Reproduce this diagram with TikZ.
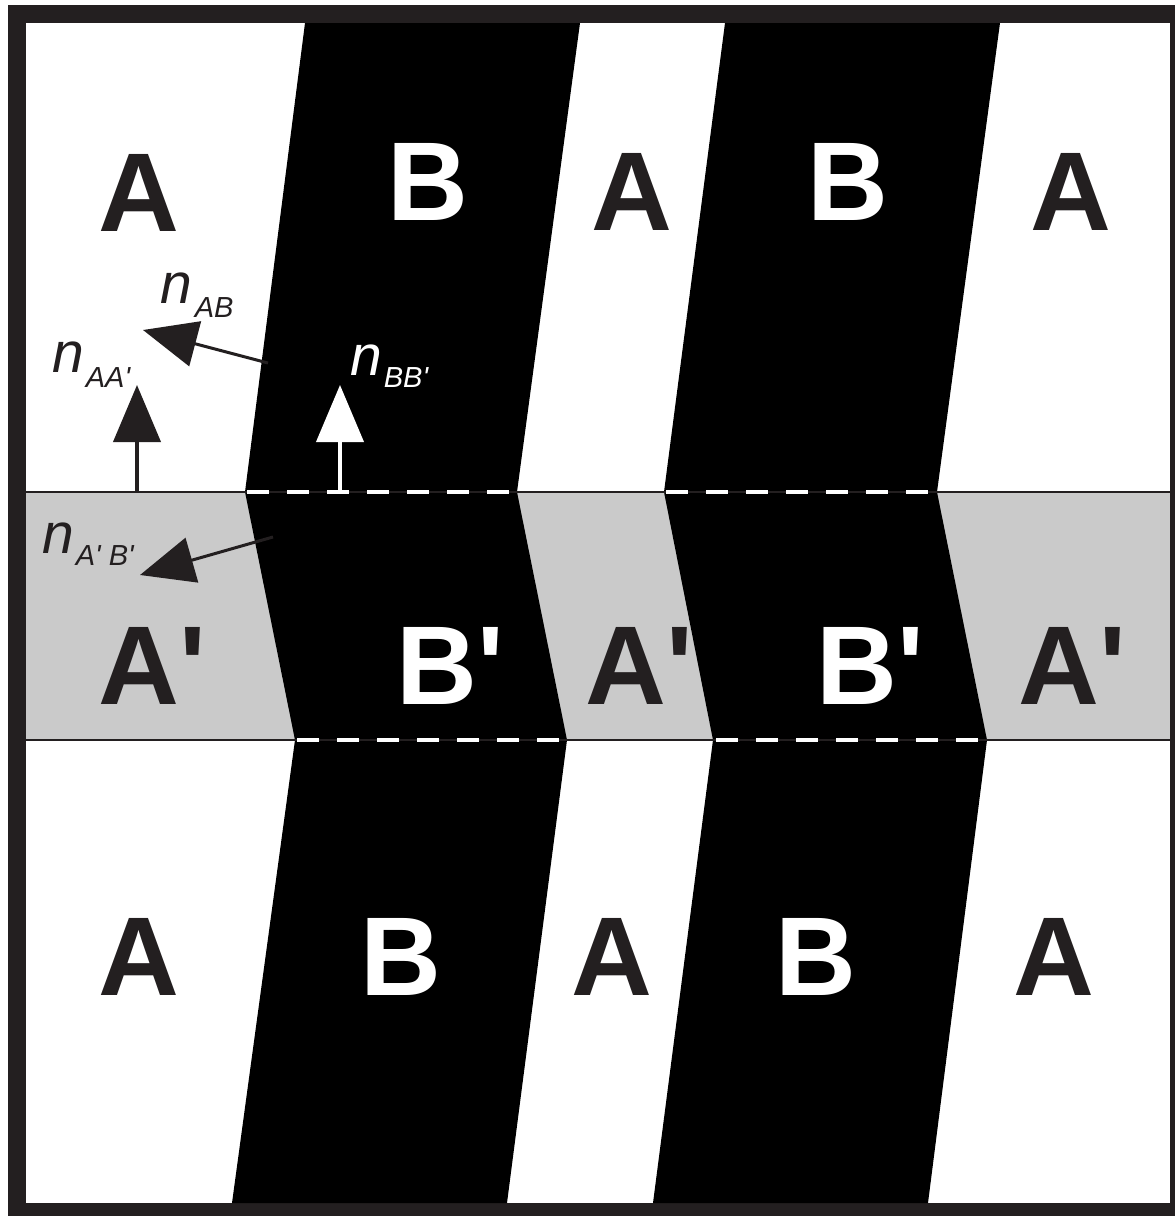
\documentclass[tikz,border=0pt]{standalone}
\usepackage{fontspec}
\setmainfont{Liberation Sans}[Ligatures=TeXOff]
\usetikzlibrary{arrows.meta}
\definecolor{ink}{HTML}{231F20}
\definecolor{band}{HTML}{CACACA}
\newcommand\sq{\char"0027\relax}
\newcommand\subtxt[2]{\raisebox{-#1pt}{\fontsize{29}{29}\selectfont\itshape #2}}
\begin{document}
\begin{tikzpicture}[x=1pt,y=-1pt,
  big/.style={font=\fontsize{112}{112}\selectfont\bfseries, inner sep=0pt, anchor=base west},
  blk/.style={big, text=ink},
  wht/.style={big, text=white},
  lab/.style={font=\fontsize{57}{57}\selectfont\itshape, inner sep=0pt, anchor=base west},
  iface/.style={ink, line width=2.5pt},
  dashw/.style={white, line width=4.5pt, dash pattern=on 22pt off 18pt},
  vec/.style={ink, line width=3pt, -{Triangle[length=54pt,width=46pt]}},
  vvec/.style={line width=4pt, -{Triangle[length=57pt,width=47pt]}}]
\useasboundingbox (0,0) rectangle (1175,1216);
% frame and background
\fill[ink] (8,5) rectangle (1175,1216);
\fill[white] (26,23) rectangle (1170,1203);
\fill[band] (26,492) rectangle (1170,740);
% black stripes, top band
\fill[black] (305,23) -- (580,23) -- (517,492) -- (245,492) -- cycle;
\fill[black] (725,23) -- (1000,23) -- (937,492) -- (664,492) -- cycle;
% gray band
\fill[black] (245,492) -- (517,492) -- (567,740) -- (295,740) -- cycle;
\fill[black] (664,492) -- (937,492) -- (987,740) -- (713,740) -- cycle;
% bottom band
\fill[black] (295,740) -- (567,740) -- (507,1203) -- (232,1203) -- cycle;
\fill[black] (713,740) -- (987,740) -- (928,1203) -- (653,1203) -- cycle;
% interfaces
\draw[iface] (26,492) -- (1170,492);
\draw[iface] (26,740) -- (1170,740);
\draw[dashw] (247,492) -- (517,492);
\draw[dashw] (666,492) -- (937,492);
\draw[dashw] (297,740) -- (567,740);
\draw[dashw] (716,740) -- (987,740);
% letters top row
\node[blk] (a1) at (98,231) {A};
\node[wht] (b1) at (387,220) {B};
\node[blk] (a2) at (591,230) {A};
\node[wht] (b2) at (807,220) {B};
\node[blk] (a3) at (1030,230) {A};
% gray row
\node[blk] (ap1) at (98,704) {A\sq};
\node[wht] (bp1) at (396,704) {B\sq};
\node[blk] (ap2) at (585,704) {A\sq};
\node[wht] (bp2) at (816,704) {B\sq};
\node[blk] (ap3) at (1018,704) {A\sq};
% bottom row
\node[blk] (a4) at (98,995) {A};
\node[wht] (b3) at (360,995) {B};
\node[blk] (a5) at (571,995) {A};
\node[wht] (b4) at (775,995) {B};
\node[blk] (a6) at (1013,995) {A};
% vectors
\coordinate (tAB) at (268,363);
\coordinate (hAB) at (143,330);
\coordinate (tAA) at (137,492);
\coordinate (hAA) at (137,385);
\coordinate (tBB) at (340,492);
\coordinate (hBB) at (340,385);
\coordinate (tApBp) at (273,537);
\coordinate (hApBp) at (140,575);
\draw[vec] (tAB) -- (hAB);
\draw[vec] (tApBp) -- (hApBp);
\draw[vvec, ink] (tAA) -- (hAA);
\draw[vvec, white] (tBB) -- (hBB);
% labels
\node[lab, text=ink] (lAB) at (160,303) {n\hspace{3pt}\subtxt{14}{AB}};
\node[lab, text=ink] (lAA) at (52,372) {n\hspace{2pt}\subtxt{15}{AA\sq}};
\node[lab, text=white] (lBB) at (350,375) {n\hspace{2pt}\subtxt{12}{BB\sq}};
\node[lab, text=ink] (lApBp) at (42,553) {n\hspace{2pt}\subtxt{12}{A\sq\ B\sq}};
\end{tikzpicture}
\end{document}
